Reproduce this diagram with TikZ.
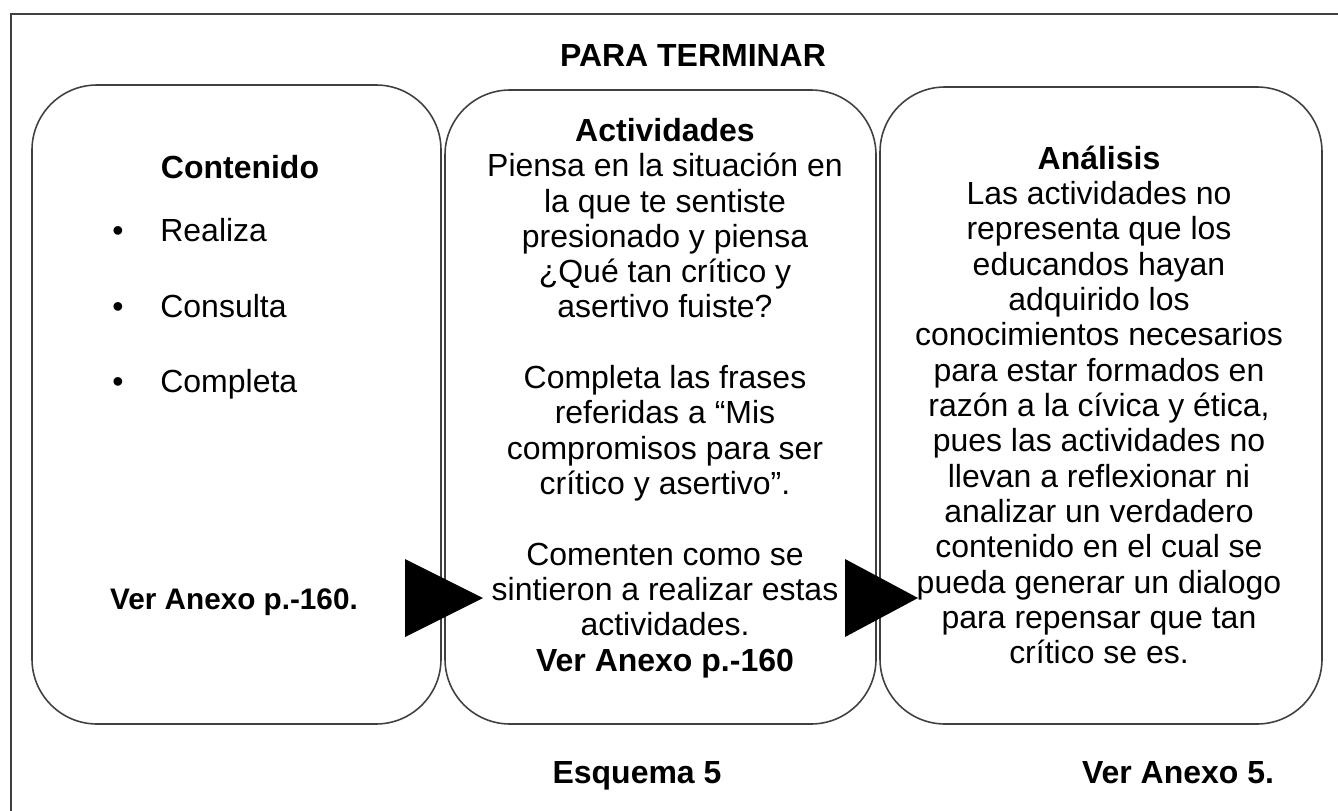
\documentclass[tikz,border=0pt]{standalone}
\usepackage{fontspec}
\setmainfont{Liberation Sans}
\usetikzlibrary{positioning}

\begin{document}
\begin{tikzpicture}[>=latex, scale=0.2,
	caja/.style={draw=black!75, line width=0.9pt, rounded corners=1.3cm},
	texto/.style={inner sep=0pt, align=center, font=\fontsize{18.2}{20.1}\selectfont},
	negrita/.style={inner sep=0pt, align=center, font=\fontsize{18.2}{20.1}\selectfont\bfseries},
	flecha/.style={fill=black}]

	\useasboundingbox (0,0) rectangle (133.8,-81.1);

	% marco exterior
	\draw[black!75, line width=0.8pt] (1.1,-90) -- (1.1,-1.4) -- (140,-1.4);

	\node[negrita](titulo) at (69.3,-5.6) {PARA TERMINAR};

	% cajas
	\draw[caja] (3.2,-8.5) rectangle (44.1,-72.4);
	\draw[caja] (44.5,-9.0) rectangle (87.6,-72.4);
	\draw[caja] (88.0,-8.7) rectangle (132.2,-72.4);

	% flechas
	\fill[flecha] (40.5,-55.9) -- (40.5,-63.7) -- (48.3,-59.8) -- cycle;
	\fill[flecha] (84.5,-55.9) -- (84.5,-63.7) -- (91.8,-59.8) -- cycle;

	% contenido
	\node[negrita](contenido) at (24.0,-16.7) {Contenido};

	\node[texto, anchor=base](p1) at (11.8,-24.2) {•};
	\node[texto, anchor=base](p2) at (11.8,-31.7) {•};
	\node[texto, anchor=base](p3) at (11.8,-39.2) {•};

	\node[texto, anchor=base west](realiza) at (16.0,-24.2) {Realiza};
	\node[texto, anchor=base west](consulta) at (16.0,-31.7) {Consulta};
	\node[texto, anchor=base west](completa) at (16.0,-39.2) {Completa};

	\node[inner sep=0pt, font=\fontsize{16.9}{19}\selectfont\bfseries](anexoA) at (23.4,-60.2) {Ver Anexo p.-160.};

	% actividades
	\node[texto](actividades) at (66.5,-39.8) {\textbf{Actividades}\\
		Piensa en la situación en\\
		la que te sentiste\\
		presionado y piensa\\
		¿Qué tan crítico y\\
		asertivo fuiste?\\[20.1pt]
		Completa las frases\\
		referidas a “Mis\\
		compromisos para ser\\
		crítico y asertivo”.\\[20.1pt]
		Comenten como se\\
		sintieron a realizar estas\\
		actividades.\\
		\textbf{Ver Anexo p.-160}};

	% analisis
	\node[texto](analisis) at (109.9,-40.5) {\textbf{Análisis}\\
		Las actividades no\\
		representa que los\\
		educandos hayan\\
		adquirido los\\
		conocimientos necesarios\\
		para estar formados en\\
		razón a la cívica y ética,\\
		pues las actividades no\\
		llevan a reflexionar ni\\
		analizar un verdadero\\
		contenido en el cual se\\
		pueda generar un dialogo\\
		para repensar que tan\\
		crítico se es.};

	\node[negrita, anchor=base](esquema) at (63.7,-78.3) {Esquema 5};
	\node[negrita, anchor=base](anexoB) at (117.8,-78.3) {Ver Anexo 5.};
\end{tikzpicture}
\end{document}
